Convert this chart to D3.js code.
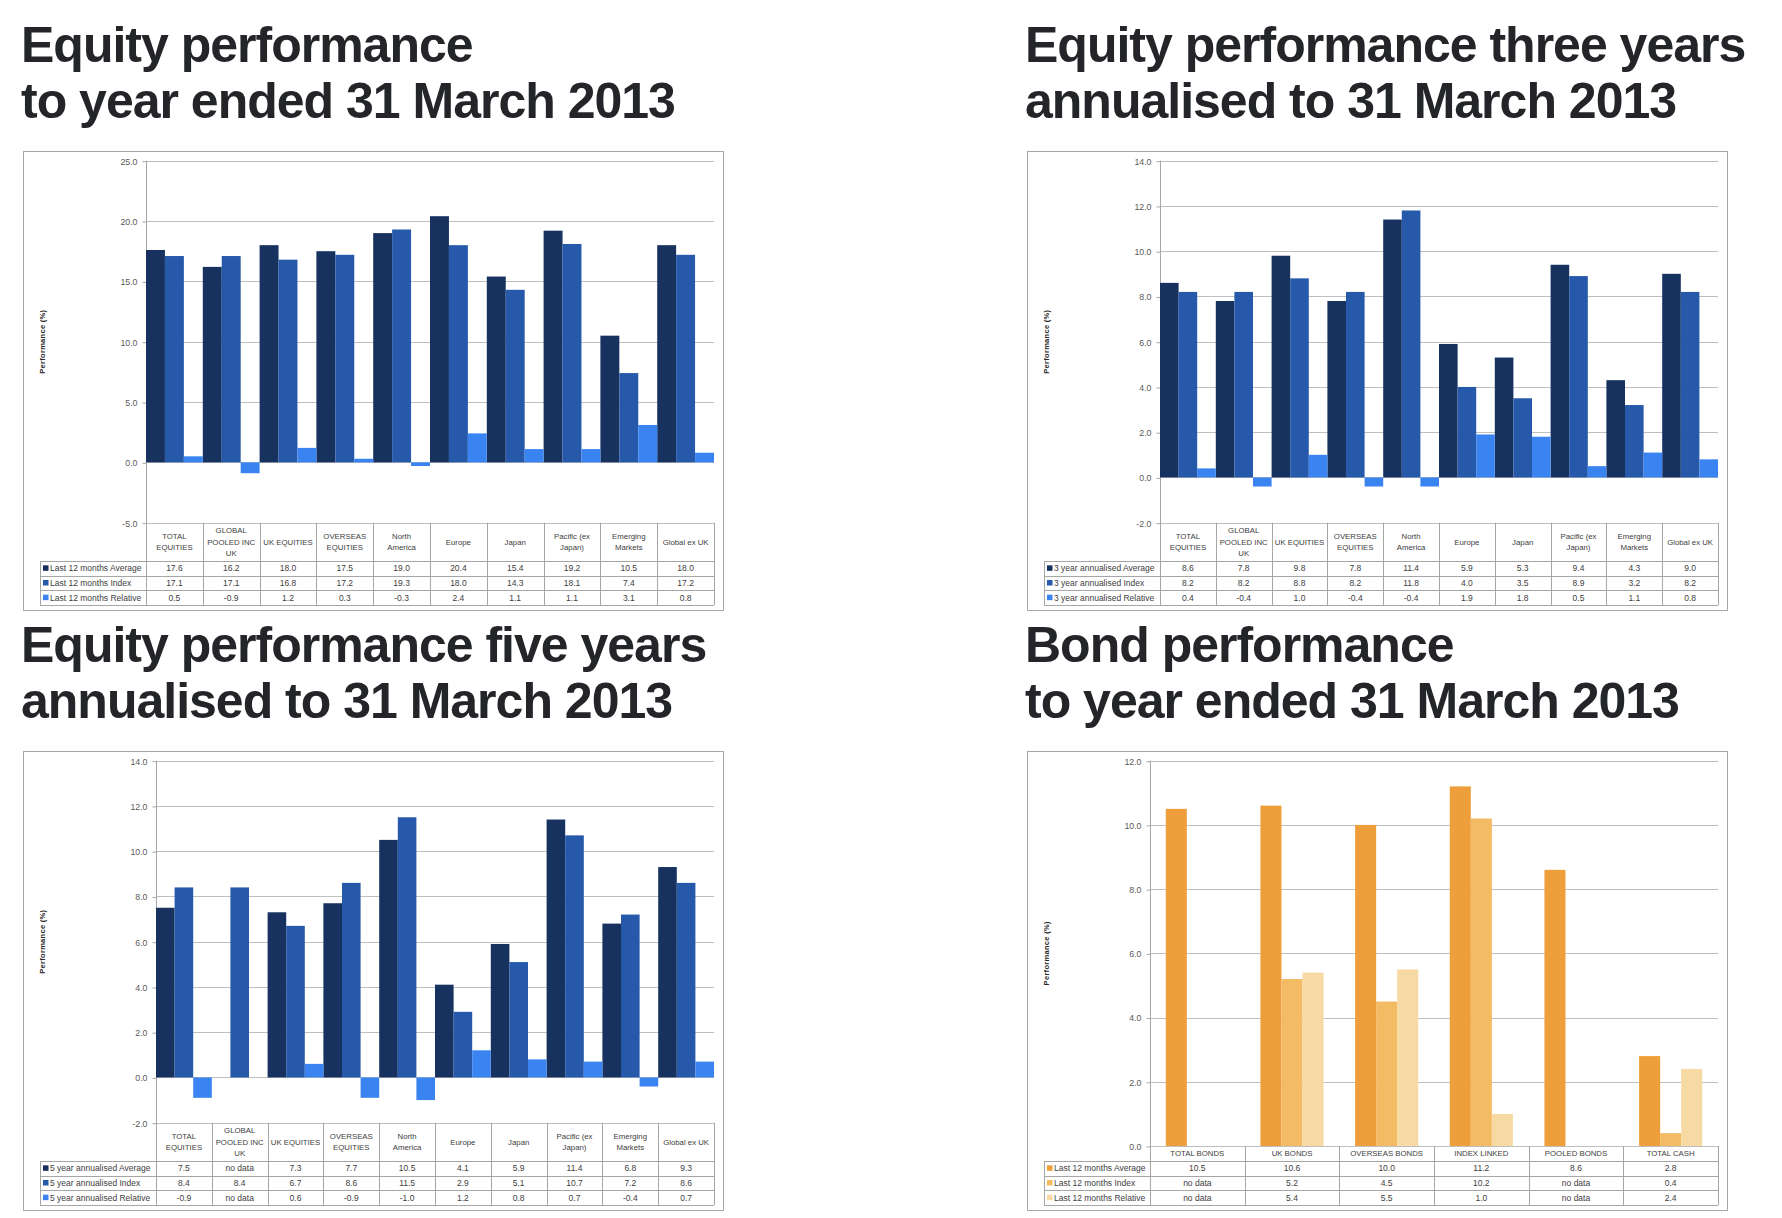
<!DOCTYPE html>
<html>
<head>
<meta charset="utf-8">
<script src="https://cdn.jsdelivr.net/npm/d3@7"></script>
<style>
  html, body { margin: 0; padding: 0; background: #ffffff; }
  svg { display: block; }
</style>
</head>
<body>
<script>
// ---------------- DATA ----------------
const equityCategories = ["TOTAL EQUITIES", "GLOBAL POOLED INC UK", "UK EQUITIES", "OVERSEAS EQUITIES",
  "North America", "Europe", "Japan", "Pacific (ex Japan)", "Emerging Markets", "Global ex UK"];
const equityCategoryLines = [["TOTAL", "EQUITIES"], ["GLOBAL", "POOLED INC", "UK"], ["UK EQUITIES"],
  ["OVERSEAS", "EQUITIES"], ["North", "America"], ["Europe"], ["Japan"], ["Pacific (ex", "Japan)"],
  ["Emerging", "Markets"], ["Global ex UK"]];

const oneYearAverage  = [17.6, 16.2, 18.0, 17.5, 19.0, 20.4, 15.4, 19.2, 10.5, 18.0];
const oneYearIndex    = [17.1, 17.1, 16.8, 17.2, 19.3, 18.0, 14.3, 18.1, 7.4, 17.2];
const oneYearRelative = [0.5, -0.9, 1.2, 0.3, -0.3, 2.4, 1.1, 1.1, 3.1, 0.8];
const oneYearSeriesNames = ["Last 12 months Average", "Last 12 months Index", "Last 12 months Relative"];
const oneYearTicks = [-5, 0, 5, 10, 15, 20, 25];

const threeYearAverage  = [8.6, 7.8, 9.8, 7.8, 11.4, 5.9, 5.3, 9.4, 4.3, 9.0];
const threeYearIndex    = [8.2, 8.2, 8.8, 8.2, 11.8, 4.0, 3.5, 8.9, 3.2, 8.2];
const threeYearRelative = [0.4, -0.4, 1.0, -0.4, -0.4, 1.9, 1.8, 0.5, 1.1, 0.8];
const threeYearSeriesNames = ["3 year annualised Average", "3 year annualised Index", "3 year annualised Relative"];

const fiveYearAverage  = [7.5, null, 7.3, 7.7, 10.5, 4.1, 5.9, 11.4, 6.8, 9.3];
const fiveYearIndex    = [8.4, 8.4, 6.7, 8.6, 11.5, 2.9, 5.1, 10.7, 7.2, 8.6];
const fiveYearRelative = [-0.9, null, 0.6, -0.9, -1.0, 1.2, 0.8, 0.7, -0.4, 0.7];
const fiveYearSeriesNames = ["5 year annualised Average", "5 year annualised Index", "5 year annualised Relative"];
const annualisedTicks = [-2, 0, 2, 4, 6, 8, 10, 12, 14];

const bondCategories = ["TOTAL BONDS", "UK BONDS", "OVERSEAS BONDS", "INDEX LINKED", "POOLED BONDS", "TOTAL CASH"];
const bondAverage  = [10.5, 10.6, 10.0, 11.2, 8.6, 2.8];
const bondIndex    = [null, 5.2, 4.5, 10.2, null, 0.4];
const bondRelative = [null, 5.4, 5.5, 1.0, null, 2.4];
const bondSeriesNames = ["Last 12 months Average", "Last 12 months Index", "Last 12 months Relative"];
const bondTicks = [0, 2, 4, 6, 8, 10, 12];

const equityColors = ["#17325f", "#2759aa", "#3a84f2"];
const bondColors = ["#ee9e3a", "#f2bb64", "#f7d9a3"];

const titles = [
  ["Equity performance", "to year ended 31 March 2013"],
  ["Equity performance three years", "annualised to 31 March 2013"],
  ["Equity performance five years", "annualised to 31 March 2013"],
  ["Bond performance", "to year ended 31 March 2013"]
];

// ---------------- DRAW ----------------
const svg = d3.select("body").append("svg").attr("width", 1782).attr("height", 1218);
svg.append("rect").attr("width", 1782).attr("height", 1218).attr("fill", "#fff");

const SMALL_FONT = "'Liberation Sans', Arial, sans-serif";
const fmt = v => v == null ? "no data" : v.toFixed(1);

function drawPanel(cfg) {
  const g = svg.append("g").attr("transform", `translate(${cfg.ox},${cfg.oy})`);
  // title
  const t = g.append("text")
    .attr("font-family", "'Liberation Sans', Arial, Helvetica, sans-serif")
    .attr("font-weight", "bold").attr("font-size", 50).attr("letter-spacing", "-1px")
    .attr("fill", "#232529");
  cfg.title.forEach((line, i) => {
    t.append("tspan").attr("x", 21).attr("y", i === 0 ? 62 : 118).text(line);
  });

  const boxL = 23, boxR = 723, boxT = 151, boxB = 610;
  g.append("rect").attr("x", boxL + 0.5).attr("y", boxT + 0.5)
    .attr("width", boxR - boxL).attr("height", boxB - boxT)
    .attr("fill", "#fff").attr("stroke", "#a6a6a6").attr("stroke-width", 1);

  const plotL = boxL + cfg.plotOffset, plotR = boxL + 691;
  const plotTop = 160.7;
  const tableTop = cfg.tableTop;
  const headerBottom = 561, tableBottom = 605;
  const rowH = (tableBottom - headerBottom) / 3;
  const legendL = boxL + 17;

  const y = d3.scaleLinear().domain([cfg.ticks[0], cfg.ticks[cfg.ticks.length - 1]]).range([tableTop, plotTop]);
  const x = d3.scaleBand().domain(d3.range(cfg.categories.length)).range([plotL, plotR]).paddingInner(0).paddingOuter(0);
  const bw = x.bandwidth();
  const inner = d3.scaleBand().domain([0, 1, 2])
    .range(cfg.gapWidth === 0 ? [0, bw] : [bw * (cfg.gapWidth / 2) / (3 + cfg.gapWidth), bw - bw * (cfg.gapWidth / 2) / (3 + cfg.gapWidth)])
    .paddingInner(0).paddingOuter(0);

  // gridlines
  g.append("g").selectAll("line").data(cfg.ticks).join("line")
    .attr("x1", plotL).attr("x2", plotR)
    .attr("y1", d => Math.round(y(d)) + 0.5).attr("y2", d => Math.round(y(d)) + 0.5)
    .attr("stroke", "#bfbfbf").attr("stroke-width", 1);

  // y axis
  const axis = d3.axisLeft(y).tickValues(cfg.ticks).tickFormat(d => d.toFixed(1)).tickSize(4).tickPadding(5);
  const ag = g.append("g").attr("transform", `translate(${plotL + 0.5},0.5)`).call(axis);
  ag.select(".domain").remove();
  ag.selectAll(".tick line").attr("stroke", "#a6a6a6");
  ag.selectAll(".tick text").attr("fill", "#595959").attr("font-size", 8.8).attr("font-family", SMALL_FONT);
  g.append("line").attr("x1", plotL + 0.5).attr("x2", plotL + 0.5).attr("y1", plotTop).attr("y2", tableBottom)
    .attr("stroke", "#a6a6a6");

  // axis title
  g.append("text").attr("transform", `translate(${boxL + 22},${(plotTop + tableTop) / 2}) rotate(-90)`)
    .attr("text-anchor", "middle").attr("font-family", SMALL_FONT).attr("font-weight", "bold")
    .attr("font-size", 7.5).attr("fill", "#262626").attr("letter-spacing", "0.3px").text("Performance (%)");

  // bars
  cfg.series.forEach((vals, si) => {
    g.append("g").selectAll("rect").data(vals.map((v, i) => ({ v, i })).filter(d => d.v != null)).join("rect")
      .attr("x", d => x(d.i) + inner(si))
      .attr("width", inner.bandwidth())
      .attr("y", d => y(Math.max(0, d.v)))
      .attr("height", d => Math.abs(y(d.v) - y(0)))
      .attr("fill", cfg.colors[si]);
  });

  // table
  const tl = g.append("g").attr("stroke", "#a6a6a6").attr("stroke-width", 1);
  d3.range(cfg.categories.length + 1).forEach(i => {
    const xx = Math.round(i === cfg.categories.length ? plotR : x(i)) + 0.5;
    tl.append("line").attr("x1", xx).attr("x2", xx).attr("y1", tableTop).attr("y2", tableBottom);
  });
  tl.append("line").attr("x1", legendL + 0.5).attr("x2", legendL + 0.5).attr("y1", headerBottom).attr("y2", tableBottom);
  [0, 1, 2, 3].forEach(r => {
    const yy = Math.round(headerBottom + r * rowH) + 0.5;
    tl.append("line").attr("x1", legendL).attr("x2", plotR).attr("y1", yy).attr("y2", yy);
  });

  // header labels
  const hg = g.append("g").attr("font-family", SMALL_FONT).attr("font-size", 7.8).attr("fill", "#404040")
    .attr("text-anchor", "middle");
  cfg.categoryLines.forEach((lines, i) => {
    const cx = x(i) + bw / 2;
    const cy = (tableTop + headerBottom) / 2;
    const lh = 11.5;
    lines.forEach((ln, k) => {
      hg.append("text").attr("x", cx).attr("y", cy + (k - (lines.length - 1) / 2) * lh + 2.8).text(ln);
    });
  });

  // rows
  const rg = g.append("g").attr("font-family", SMALL_FONT).attr("font-size", 8.5).attr("fill", "#404040");
  cfg.series.forEach((vals, si) => {
    const cy = headerBottom + rowH * si + rowH / 2;
    rg.append("rect").attr("x", legendL + 3).attr("y", cy - 3).attr("width", 5.5).attr("height", 5.5)
      .attr("fill", cfg.colors[si]);
    rg.append("text").attr("x", legendL + 10).attr("y", cy + 3).text(cfg.seriesNames[si]);
    vals.forEach((v, i) => {
      rg.append("text").attr("x", x(i) + bw / 2).attr("y", cy + 3).attr("text-anchor", "middle").text(fmt(v));
    });
  });
}

drawPanel({ ox: 0, oy: 0, title: titles[0], plotOffset: 123, tableTop: 522.7, ticks: oneYearTicks,
  categories: equityCategories, categoryLines: equityCategoryLines,
  series: [oneYearAverage, oneYearIndex, oneYearRelative], seriesNames: oneYearSeriesNames,
  colors: equityColors, gapWidth: 0 });
drawPanel({ ox: 1004, oy: 0, title: titles[1], plotOffset: 133, tableTop: 522.7, ticks: annualisedTicks,
  categories: equityCategories, categoryLines: equityCategoryLines,
  series: [threeYearAverage, threeYearIndex, threeYearRelative], seriesNames: threeYearSeriesNames,
  colors: equityColors, gapWidth: 0 });
drawPanel({ ox: 0, oy: 600, title: titles[2], plotOffset: 133, tableTop: 522.7, ticks: annualisedTicks,
  categories: equityCategories, categoryLines: equityCategoryLines,
  series: [fiveYearAverage, fiveYearIndex, fiveYearRelative], seriesNames: fiveYearSeriesNames,
  colors: equityColors, gapWidth: 0 });
drawPanel({ ox: 1004, oy: 600, title: titles[3], plotOffset: 123, tableTop: 546, ticks: bondTicks,
  categories: bondCategories, categoryLines: bondCategories.map(c => [c]),
  series: [bondAverage, bondIndex, bondRelative], seriesNames: bondSeriesNames,
  colors: bondColors, gapWidth: 1.5 });
</script>
</body>
</html>
